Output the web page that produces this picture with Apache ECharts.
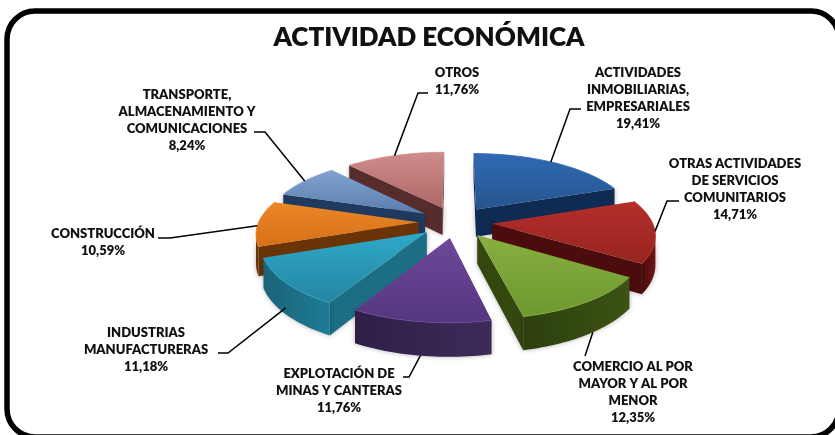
<!DOCTYPE html>
<html><head><meta charset="utf-8">
<style>html,body{margin:0;padding:0;background:#fff}#c{width:835px;height:435px}</style>
<script src="https://cdn.jsdelivr.net/npm/echarts@6/dist/echarts.min.js"></script>
</head><body><div id="c"></div>
<script>
var chartTitle = 'ACTIVIDAD ECONÓMICA';
var categories = ['ACTIVIDADES\nINMOBILIARIAS,\nEMPRESARIALES','OTRAS ACTIVIDADES\nDE SERVICIOS\nCOMUNITARIOS','COMERCIO AL POR\nMAYOR Y AL POR\nMENOR','EXPLOTACIÓN DE\nMINAS Y CANTERAS','INDUSTRIAS\nMANUFACTURERAS','CONSTRUCCIÓN','TRANSPORTE,\nALMACENAMIENTO Y\nCOMUNICACIONES','OTROS'];
var values = [19.41,14.71,12.35,11.76,11.18,10.59,8.24,11.76];
var valueLabels = ['19,41%','14,71%','12,35%','11,76%','11,18%','10,59%','8,24%','11,76%'];

var topColors = [['#3069b3','#26558f'],['#b52e2b','#96241f'],['#88b03f','#6b982f'],['#6c4899','#563680'],['#2fa9c8','#2585a2'],['#ec8626','#d6711a'],['#82a3cf','#5a7dae'],['#d08c8a','#ad6866']];
var wallColors = ['#0f2b52','#4a0c0c','#33470f','#36244f','#1c6e85','#6a3406','#1f3a5e','#572c2d'];
var arcWallColors = [['#0d2548','#143563'],['#4a0c0c','#6e1614'],['#2c3f0d','#3c5314'],['#2e1f47','#3d2a59'],['#1a6378','#1e7c96'],['#5e2e05','#7a3d08'],['#1b3352','#24426a'],['#4a2627','#5e3031']];
var labelCenters = [[638,72],[735,163],[633,366],[339,373],[146,332],[103,233],[187,94],[457,72]];
var elbows = [[[581,109],[570,109]],[[679,201],[667,201]],[[585,356]],[[403,377],[409,377]],[[218,353],[228,353]],[[158,238],[170,238]],[[254,132],[265,132]],[[428,93],[418,93]]];
var anchorFraction = [0.48,0.5,0.45,0.5,0.5,0.45,0.5,0.5];
var anchorDepth = [0,0,1,1,0.8,0,0,0];

var cx=455.5, cy=222, R=160, Ry=67.5, P=0.145, H=28, EX=0.23;
function proj(u,v,z){var s=1/(1-P*v);return [cx+R*u*s, cy+Ry*v*s+H*z*s];}
var total=values.reduce(function(a,b){return a+b;},0);
var starts=[];values.reduce(function(a,b,i){starts[i]=a;return a+b;},0);
function rad(p){return p/total*Math.PI*2;}
function outer(i,f,z){
  var a0=rad(starts[i]),a1=rad(starts[i]+values[i]),m=(a0+a1)/2,a=a0+(a1-a0)*f;
  return proj(Math.sin(a)+EX*Math.sin(m),-Math.cos(a)-EX*Math.cos(m),z);
}
function apex(i,z){
  var m=rad(starts[i]+values[i]/2);
  return proj(EX*Math.sin(m),-EX*Math.cos(m),z);
}
function renderItem(params,api){
  var i=api.value(0), m=rad(starts[i]+values[i]/2), z=Math.round((-Math.cos(m))*50)+100;
  var n=30, arcT=[], arcB=[];
  for(var k=0;k<=n;k++){arcT.push(outer(i,k/n,0));arcB.push(outer(i,k/n,1));}
  var ch=[];
  var aT=apex(i,0),aB=apex(i,1);
  var shadow={shadowBlur:5,shadowColor:'rgba(0,0,0,0.3)'};
  function wall(a,b,fill,zz){ch.push({type:'polygon',z2:zz,shape:{points:a.concat(b.slice().reverse())},style:{fill:fill,shadowBlur:shadow.shadowBlur,shadowColor:shadow.shadowColor}});}
  if(arcT[0][0]<aT[0]) wall([aT,arcT[0]],[aB,arcB[0]],wallColors[i],z);
  if(aT[0]<arcT[n][0]) wall([arcT[n],aT],[arcB[n],aB],wallColors[i],z);
  var ptsT=[],ptsB=[];
  for(k=0;k<=n;k++){
    var facing = (k<n ? arcT[k+1][0]<arcT[k][0] : arcT[k][0]<arcT[k-1][0]);
    if(facing){ptsT.push(arcT[k]);ptsB.push(arcB[k]);}
  }
  if(ptsT.length>1){
    wall(ptsT,ptsB,{type:'linear',x:0,y:0,x2:1,y2:0,colorStops:[{offset:0,color:arcWallColors[i][0]},{offset:1,color:arcWallColors[i][1]}]},z+1);
  }
  ch.push({type:'polygon',z2:z+2,shape:{points:[aT].concat(arcT)},style:{
    fill:{type:'linear',x:0,y:0,x2:0,y2:1,colorStops:[{offset:0,color:topColors[i][0]},{offset:1,color:topColors[i][1]}]}}});
  ch.push({type:'polyline',z2:z+3,shape:{points:arcT},style:{fill:null,stroke:topColors[i][0],lineWidth:1,opacity:0.8}});
  var pts=[outer(i,anchorFraction[i],anchorDepth[i])].concat(elbows[i].slice().reverse());
  ch.push({type:'polyline',z2:300,shape:{points:pts},style:{fill:null,stroke:'#000',lineWidth:1.5}});
  ch.push({type:'text',z2:400,x:labelCenters[i][0],y:labelCenters[i][1]-8,style:{
    text:categories[i]+'\n'+valueLabels[i],fill:'#111',font:'800 13px Lato',align:'center',verticalAlign:'top',lineHeight:17}});
  return {type:'group',children:ch};
}
var chart=echarts.init(document.getElementById('c'),null,{renderer:'canvas'});
chart.setOption({
  animation:false,
  title:{text:chartTitle,left:424,top:20,textAlign:'center',textStyle:{fontFamily:'Lato',fontWeight:800,fontSize:26,color:'#111'}},
  graphic:[{type:'rect',z:0,shape:{x:7,y:11,width:832,height:426,r:28},style:{fill:'#fff',stroke:'#000',lineWidth:5.5}}],
  series:[{type:'custom',coordinateSystem:'none',renderItem:renderItem,silent:true,z:5,clip:false,
    data:values.map(function(v,i){return [i,v];})}]
});
</script></body></html>
